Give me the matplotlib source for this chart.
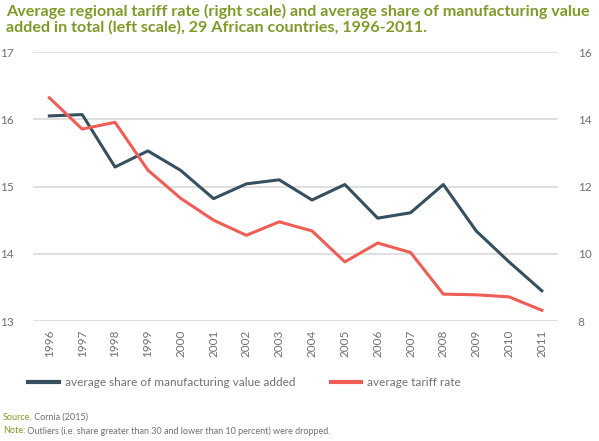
import matplotlib.pyplot as plt

years = [str(y) for y in range(1996, 2012)]
manuf_share = [16.05, 16.07, 15.29, 15.53, 15.24, 14.82, 15.04, 15.10,
               14.80, 15.03, 14.53, 14.61, 15.03, 14.34, 13.88, 13.45]
tariff_rate = [14.64, 13.71, 13.91, 12.49, 11.65, 11.00, 10.55, 10.95,
               10.68, 9.76, 10.32, 10.04, 8.80, 8.78, 8.72, 8.32]

left_ticks = [13, 14, 15, 16, 17]
right_ticks = [8, 10, 12, 14, 16]

DARK = "#36505f"
RED = "#ef5e56"
GREEN = "#7f9a2a"
GRAY = "#707070"

plt.rcParams["font.family"] = ["Lato", "DejaVu Sans"]

fig = plt.figure(figsize=(5.99, 4.41), dpi=100)
ax = fig.add_axes([0.055, 0.272, 0.877, 0.61])
ax2 = ax.twinx()

x = list(range(len(years)))
l1, = ax.plot(x, manuf_share, color=DARK, lw=2.2,
              label="average share of manufacturing value added")
l2, = ax2.plot(x, tariff_rate, color=RED, lw=2.2,
               label="average tariff rate")

ax.set_xlim(-0.5, 15.5)
ax.set_ylim(13, 17)
ax2.set_ylim(8, 16)
ax.set_yticks(left_ticks)
ax2.set_yticks(right_ticks)
ax.set_xticks(x)
ax.set_xticklabels(years, rotation=90)

ax.grid(axis="y", color="#dddddd", lw=1.3)
ax.set_axisbelow(True)
for a in (ax, ax2):
    for s in a.spines.values():
        s.set_visible(False)
    a.tick_params(length=0, colors=GRAY, labelsize=8.5)
ax.tick_params(axis="y", pad=14)
ax2.tick_params(axis="y", pad=14)
ax.tick_params(axis="x", pad=6)

fig.text(0.01, 0.99,
         "Average regional tariff rate (right scale) and average share of manufacturing value\n"
         "added in total (left scale), 29 African countries, 1996-2011.",
         color=GREEN, fontsize=11.6, fontweight="bold", va="top", linespacing=1.05)

leg = fig.legend(handles=[l1, l2], loc="center left", bbox_to_anchor=(0.047, 0.132),
                 ncol=2, frameon=False, fontsize=8.5, handlelength=2.6,
                 handletextpad=0.5, columnspacing=3.0, borderpad=0,
                 borderaxespad=0, labelcolor=GRAY)
for h in leg.legend_handles:
    h.set_linewidth(3)

# footnotes: green label followed by gray text
src = fig.text(0.005, 0.054, "Source.", color=GREEN, fontsize=6.5, va="center")
note = fig.text(0.005, 0.023, "Note:", color=GREEN, fontsize=6.5, va="center")
fig.add_artist(plt.Annotation(" Cornia (2015)", xy=(1, 0.5), xycoords=src,
                              va="center", ha="left", color=GRAY, fontsize=6.5))
fig.add_artist(plt.Annotation(" Outliers (i.e. share greater than 30 and lower than 10 percent) were dropped.",
                              xy=(1, 0.5), xycoords=note, va="center", ha="left",
                              color=GRAY, fontsize=6.5))

fig.savefig("out.png", dpi=100)
